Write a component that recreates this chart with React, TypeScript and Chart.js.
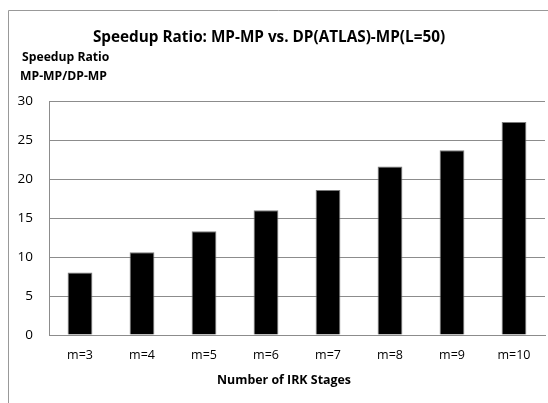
import React, { useEffect, useRef } from "react";
import { Chart, registerables } from "chart.js";

Chart.register(...registerables);

const stages = ["m=3", "m=4", "m=5", "m=6", "m=7", "m=8", "m=9", "m=10"];
const speedup = [8.0, 10.6, 13.3, 16.0, 18.6, 21.6, 23.7, 27.3];
const yTicks = [0, 5, 10, 15, 20, 25, 30];

const chartTitle = "Speedup Ratio: MP-MP vs. DP(ATLAS)-MP(L=50)";
const yHeader = ["Speedup Ratio", "MP-MP/DP-MP"];
const xTitle = "Number of IRK Stages";

const FONT = "'Open Sans', 'Noto Sans', sans-serif";
const GRID = "#8c8c8c";

// Frame, title and axis captions drawn around the plot
const decorations = {
  id: "decorations",
  afterDraw(chart: Chart) {
    const ctx = chart.ctx;
    ctx.save();
    // outer frame (left and top edges visible)
    ctx.strokeStyle = "#999999";
    ctx.lineWidth = 1;
    ctx.beginPath();
    ctx.moveTo(8.5, 403);
    ctx.lineTo(8.5, 10.5);
    ctx.lineTo(548, 10.5);
    ctx.stroke();

    ctx.fillStyle = "#000000";
    ctx.textBaseline = "middle";
    ctx.textAlign = "center";
    ctx.font = `bold 15.3px ${FONT}`;
    ctx.fillText(chartTitle, 269, 38);

    ctx.textAlign = "left";
    ctx.font = `bold 12.2px ${FONT}`;
    ctx.fillText(yHeader[0], 22, 58);
    ctx.fillText(yHeader[1], 20, 77);

    ctx.textAlign = "center";
    ctx.font = `bold 12.4px ${FONT}`;
    ctx.fillText(xTitle, 284, 380);
    ctx.restore();
  },
};

export default function App() {
  const canvasRef = useRef<HTMLCanvasElement | null>(null);

  useEffect(() => {
    if (!canvasRef.current) return;
    const chart = new Chart(canvasRef.current, {
      type: "bar",
      data: {
        labels: stages,
        datasets: [
          {
            data: speedup,
            backgroundColor: "#000000",
            borderColor: "#7a7a7a",
            borderWidth: 1,
            barPercentage: 0.4,
            categoryPercentage: 1,
          },
        ],
      },
      options: {
        animation: false,
        responsive: false,
        devicePixelRatio: 1,
        layout: { padding: { top: 101, right: 3, bottom: 0, left: 0 } },
        plugins: {
          legend: { display: false },
          title: { display: false },
          tooltip: { enabled: false },
        },
        scales: {
          x: {
            grid: { display: false, drawTicks: false },
            border: { display: true, color: GRID, width: 1 },
            ticks: {
              color: "#000000",
              font: { family: FONT, size: 12.5 },
              padding: 13,
              maxRotation: 0,
            },
            afterFit(scale: any) {
              scale.height = 68;
            },
          },
          y: {
            min: 0,
            max: 30,
            afterBuildTicks(scale: any) {
              scale.ticks = yTicks.map((v) => ({ value: v }));
            },
            grid: { color: GRID, lineWidth: 1, drawTicks: false },
            border: { display: true, color: GRID, width: 1 },
            ticks: {
              color: "#000000",
              font: { family: FONT, size: 13.5 },
              padding: 16,
            },
            afterFit(scale: any) {
              scale.width = 49;
            },
          },
        },
      },
      plugins: [decorations],
    });
    return () => chart.destroy();
  }, []);

  return (
    <div style={{ position: "fixed", left: 0, top: 0, width: 548, height: 403, background: "#ffffff" }}>
      <canvas ref={canvasRef} width={548} height={403} style={{ display: "block" }} />
    </div>
  );
}
